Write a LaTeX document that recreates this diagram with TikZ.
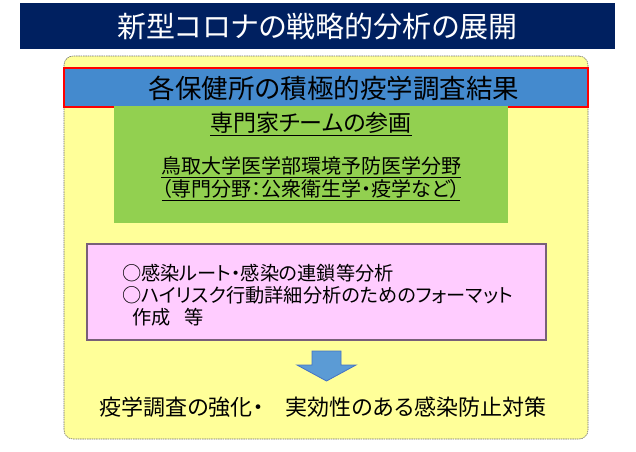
\documentclass[tikz,border=0pt]{standalone}
\usepackage{fontspec}
\setmainfont{Noto Sans CJK JP}[RawFeature={+palt}]
\usetikzlibrary{positioning}
\definecolor{TitleNavy}{RGB}{0,32,96}
\definecolor{PanelYellow}{RGB}{255,255,153}
\definecolor{PanelEdge}{RGB}{110,110,110}
\definecolor{BarBlue}{RGB}{68,138,206}
\definecolor{TeamGreen}{RGB}{146,208,80}
\definecolor{TaskPink}{RGB}{255,204,255}
\definecolor{TaskEdge}{RGB}{120,96,120}
\definecolor{ArrowBlue}{RGB}{91,155,213}
\definecolor{ArrowEdge}{RGB}{68,114,196}
\newcommand{\fsz}[2]{\fontsize{#1}{#2}\selectfont}

\begin{document}
\begin{tikzpicture}[x=1pt,y=-1pt,
		blockbox/.style={anchor=north west,inner sep=0pt,outer sep=0pt},
		txt/.style={inner sep=0pt,outer sep=0pt}]
	\useasboundingbox (0,0) rectangle (636,451);
	% title bar
	\node[blockbox,fill=TitleNavy,minimum width=595pt,minimum height=46pt,text=white,font=\fsz{29}{33}] (title) at (20,3) {新型コロナの戦略的分析の展開};
	% yellow panel
	\node[blockbox,fill=PanelYellow,draw=PanelEdge,line width=0.6pt,dash pattern=on 1.5pt off 0.8pt,rounded corners=9pt,minimum width=524pt,minimum height=383pt] (panel) at (64,56) {};
	\node[blockbox,fill=BarBlue,draw=red,line width=1.3pt,minimum width=524pt,minimum height=39pt] (result) at (64,68) {};
	\node[txt,font=\fsz{26.5}{30}] (resultlbl) at (334,88) {各保健所の積極的疫学調査結果};
	% expert team
	\node[blockbox,fill=TeamGreen,minimum width=394pt,minimum height=117pt] (team) at (114,106) {};
	\node[txt,font=\fsz{23}{26}] (teamlbl) at (311,124) {\underline{専門家チームの参画}};
	\node[txt,font=\fsz{20}{23},align=center] (teamsub) at (311,179) {\underline{鳥取大学医学部環境予防医学分野}\\\underline{（専門分野：公衆衛生学・疫学など）}};
	% analysis tasks
	\node[blockbox,fill=TaskPink,draw=TaskEdge,line width=1.2pt,minimum width=459pt,minimum height=96pt] (tasks) at (87,244) {};
	\node[txt,font=\fsz{19.2}{22},align=left,anchor=west] (taskslbl) at (122,295) {○感染ルート・感染の連鎖等分析\\○ハイリスク行動詳細分析のためのフォーマット\\\hspace{10pt}作成\hspace{14pt}等};
	% block arrow
	\draw[fill=ArrowBlue,draw=ArrowEdge,line width=0.8pt] (312,351) -- (341,351) -- (341,365) -- (356,365) -- (326.5,381) -- (297,365) -- (312,365) -- cycle;
	\node[txt,font=\fsz{22}{26}] (outcome) at (323,407) {疫学調査の強化・　実効性のある感染防止対策};
\end{tikzpicture}
\end{document}
